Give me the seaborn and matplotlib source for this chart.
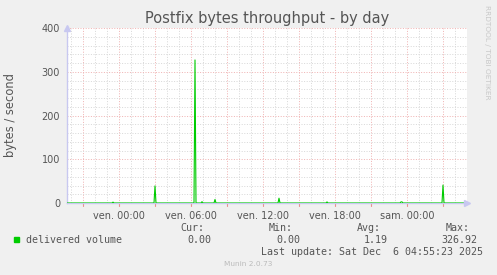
import matplotlib
matplotlib.use("Agg")
import matplotlib.pyplot as plt
import matplotlib.dates as mdates
import seaborn as sns
import pandas as pd
import numpy as np

# ---- data ----
sample_times = [
    "2025-12-04 19:40", "2025-12-04 23:25", "2025-12-04 23:30", "2025-12-04 23:35",
    "2025-12-05 02:55", "2025-12-05 03:00", "2025-12-05 03:05",
    "2025-12-05 06:15", "2025-12-05 06:20", "2025-12-05 06:25",
    "2025-12-05 06:50", "2025-12-05 06:55", "2025-12-05 07:00",
    "2025-12-05 07:55", "2025-12-05 08:00", "2025-12-05 08:05",
    "2025-12-05 13:15", "2025-12-05 13:20", "2025-12-05 13:25",
    "2025-12-05 17:15", "2025-12-05 17:20", "2025-12-05 17:25",
    "2025-12-05 23:25", "2025-12-05 23:30", "2025-12-05 23:35", "2025-12-05 23:40",
    "2025-12-06 02:55", "2025-12-06 03:00", "2025-12-06 03:05",
    "2025-12-06 05:00",
]
sample_values = [
    0.0, 0.0, 2.0, 0.0,
    0.0, 39.0, 0.0,
    0.0, 326.92, 0.0,
    0.0, 3.0, 0.0,
    0.0, 8.0, 0.0,
    0.0, 11.0, 0.0,
    0.0, 2.5, 0.0,
    0.0, 2.5, 2.5, 0.0,
    0.0, 41.0, 0.0,
    0.0,
]
tick_times = ["2025-12-05 00:00", "2025-12-05 06:00", "2025-12-05 12:00",
              "2025-12-05 18:00", "2025-12-06 00:00"]
tick_labels = ["ven. 00:00", "ven. 06:00", "ven. 12:00", "ven. 18:00", "sam. 00:00"]
y_ticks = [0, 100, 200, 300, 400]
series_name = "delivered volume"
stats_names = ["Cur:", "Min:", "Avg:", "Max:"]
stats_values = ["0.00", "0.00", "1.19", "326.92"]
x_start = "2025-12-04 19:40"
x_end = "2025-12-06 05:00"

df = pd.DataFrame({"time": pd.to_datetime(sample_times), "value": sample_values})

# ---- figure ----
W, H = 497, 275
sns.set_style("white")
plt.rcParams['font.family'] = ['DejaVu Sans']
fig = plt.figure(figsize=(W / 100, H / 100), dpi=100, facecolor="#F0F0F0")

def px(x, y):
    return x / W, 1 - y / H

L, R, T, B = 67, 467, 28, 203
ax = fig.add_axes([L / W, 1 - B / H, (R - L) / W, (B - T) / H])
ax.set_facecolor("white")
ax.set_axisbelow(True)

GREEN = "#00CC00"
RED_GRID = "#f0b4b4"
GREY_GRID = "#d9d9d9"
DOT = (0, (1, 1.6))

sns.lineplot(data=df, x="time", y="value", ax=ax, color=GREEN, linewidth=0.8,
             legend=False, zorder=5)

ax.set_xlim(pd.Timestamp(x_start), pd.Timestamp(x_end))
ax.set_ylim(0, 400)

# minor grid / ticks (skip positions of major lines)
ax.xaxis.set_minor_locator(mdates.HourLocator(byhour=[h for h in range(24) if h % 3]))
ax.yaxis.set_minor_locator(matplotlib.ticker.FixedLocator(
    [v for v in range(0, 401, 20) if v % 100]))
ax.grid(which="minor", color=GREY_GRID, linestyle=DOT, linewidth=0.72)
ax.grid(which="major", axis="y", color=RED_GRID, linestyle=DOT, linewidth=0.72)

# major x grid every 3 h
for t in pd.date_range("2025-12-04 21:00", x_end, freq="3h"):
    ax.axvline(t, color=RED_GRID, linestyle=DOT, linewidth=0.72, zorder=0.5)
    ax.plot([t, t], [0, -0.018], color="#e89090", linewidth=0.8, clip_on=False,
            transform=ax.get_xaxis_transform(), zorder=1)

ax.set_xticks(pd.to_datetime(tick_times), labels=tick_labels, minor=False)
ax.set_yticks(y_ticks, labels=[str(v) for v in y_ticks])
ax.tick_params(axis="both", which="major", labelsize=7, labelcolor="#555555",
               color="#e89090", length=3, width=0.8, direction="out", pad=2)
ax.tick_params(axis="x", which="major", pad=3)
ax.tick_params(axis="both", which="minor", color="#c4c4c4", length=2, width=0.8,
               direction="out")

for s in ["top", "right"]:
    ax.spines[s].set_visible(False)
for s in ["left", "bottom"]:
    ax.spines[s].set_color("#c8c8f0")
    ax.spines[s].set_linewidth(1.0)
    ax.spines[s].set_zorder(4)

# arrows
ax.plot([0], [1.0], marker="^", markersize=5, color="#c8c8f0", transform=ax.transAxes,
        clip_on=False, zorder=6)
ax.plot([1.0], [0], marker=">", markersize=5, color="#c8c8f0", transform=ax.transAxes,
        clip_on=False, zorder=6)

ax.set_xlabel("")
ax.set_ylabel("")

# texts
fig.text(*px(267, 19), "Postfix bytes throughput - by day", ha="center", va="center",
         fontsize=10.5, color="#555555")
fig.text(*px(10.5, 115), "bytes / second", rotation=90, ha="center", va="center",
         fontsize=8.3, color="#555555")
fig.text(*px(487, 5), "RRDTOOL / TOBI OETIKER", rotation=270, ha="center", va="top",
         fontsize=5.3, color="#c8c8c8")

mono = "DejaVu Sans Mono"
fs = 7.2
fig.patches.append(plt.Rectangle(px(14, 242), 5 / W, 5 / H, transform=fig.transFigure,
                                 color=GREEN))
fig.text(*px(26, 240), series_name, family=mono, fontsize=fs, color="#555555",
         ha="left", va="center")
name_right = [204, 293, 381, 470]
val_right = [211, 300, 388, 477]
for n, v, nr, vr in zip(stats_names, stats_values, name_right, val_right):
    fig.text(*px(nr, 228), n, family=mono, fontsize=fs, color="#555555", ha="right", va="center")
    fig.text(*px(vr, 240), v, family=mono, fontsize=fs, color="#555555", ha="right", va="center")
fig.text(*px(483, 252), "Last update: Sat Dec  6 04:55:23 2025", family=mono, fontsize=fs,
         color="#555555", ha="right", va="center")
fig.text(*px(248, 264), "Munin 2.0.73", fontsize=5.3, color="#bbbbbb", ha="center", va="center")

fig.savefig("out.png", dpi=100, facecolor=fig.get_facecolor())
